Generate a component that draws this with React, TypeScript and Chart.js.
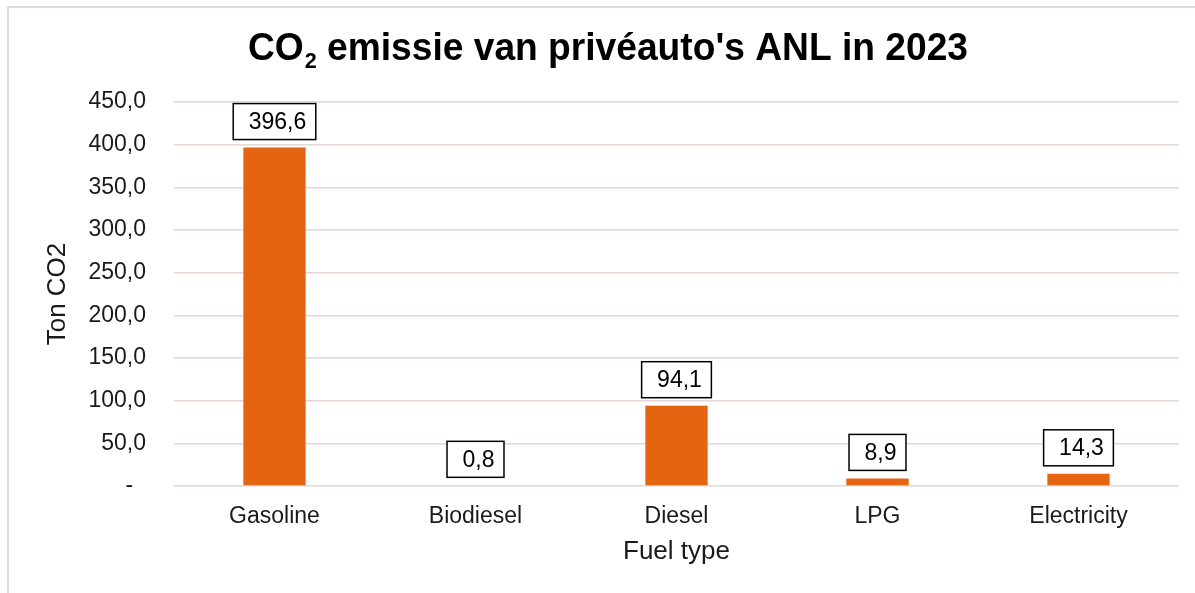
import React, { useEffect, useRef } from "react";
import { Chart, registerables } from "chart.js";

Chart.register(...registerables);

const categories = ["Gasoline", "Biodiesel", "Diesel", "LPG", "Electricity"];
const values = [396.6, 0.8, 94.1, 8.9, 14.3];
const yTicks = [0, 50, 100, 150, 200, 250, 300, 350, 400, 450];
const titleMain = "CO";
const titleSub = "2";
const titleRest = " emissie van privéauto's ANL in 2023";
const yTitle = "Ton CO2";
const xTitle = "Fuel type";

const FONT = "'Liberation Sans', Arial, sans-serif";
const fmt = (v: number) => v.toFixed(1).replace(".", ",");

const titlePlugin = {
  id: "customTitle",
  afterDraw(chart: any) {
    const ctx = chart.ctx;
    ctx.save();
    const big = `bold 38px ${FONT}`;
    const small = `bold 22px ${FONT}`;
    ctx.font = big;
    const w1 = ctx.measureText(titleMain).width;
    const w3 = ctx.measureText(titleRest).width;
    ctx.font = small;
    const w2 = ctx.measureText(titleSub).width + 1;
    const total = w1 + w2 + w3;
    const target = 720;
    const sx = target / total;
    const cx = 608;
    const baseY = 60;
    ctx.translate(cx - target / 2, 0);
    ctx.scale(sx, 1);
    ctx.fillStyle = "#000";
    ctx.textBaseline = "alphabetic";
    ctx.textAlign = "left";
    ctx.font = big;
    ctx.fillText(titleMain, 0, baseY);
    ctx.font = small;
    ctx.fillText(titleSub, w1 + 1, baseY + 8);
    ctx.font = big;
    ctx.fillText(titleRest, w1 + w2, baseY);
    ctx.restore();
  },
};

const labelPlugin = {
  id: "boxLabels",
  afterDatasetsDraw(chart: any) {
    const ctx = chart.ctx;
    const meta = chart.getDatasetMeta(0);
    ctx.save();
    ctx.font = `23px ${FONT}`;
    meta.data.forEach((bar: any, i: number) => {
      const txt = fmt(values[i]);
      const tw = ctx.measureText(txt).width;
      const bw = tw + 25;
      const bh = 36;
      const x = bar.x;
      const bottom = bar.y - 8;
      ctx.fillStyle = "#fff";
      ctx.fillRect(x - bw / 2, bottom - bh, bw, bh);
      ctx.strokeStyle = "#000";
      ctx.lineWidth = 1.5;
      ctx.strokeRect(x - bw / 2, bottom - bh, bw, bh);
      ctx.fillStyle = "#000";
      ctx.textAlign = "center";
      ctx.textBaseline = "middle";
      ctx.fillText(txt, x + 3, bottom - bh / 2 + 1);
    });
    ctx.restore();
  },
};

export default function App() {
  const ref = useRef<HTMLCanvasElement>(null);
  useEffect(() => {
    if (!ref.current) return;
    const chart = new Chart(ref.current, {
      type: "bar",
      data: {
        labels: categories,
        datasets: [
          {
            data: values,
            backgroundColor: "#E46411",
            barPercentage: 1,
            categoryPercentage: 0.31,
          },
        ],
      },
      options: {
        animation: false,
        responsive: false,
        layout: { padding: { top: 102, right: 16, left: 0, bottom: 0 } },
        plugins: {
          legend: { display: false },
          title: { display: false },
          tooltip: { enabled: false },
        },
        scales: {
          x: {
            grid: { display: false },
            border: { display: false },
            ticks: {
              color: "#1a1a1a",
              font: { family: FONT, size: 23 },
              padding: 9,
            },
            title: {
              display: true,
              text: xTitle,
              color: "#1a1a1a",
              font: { family: FONT, size: 26 },
              padding: { top: 0, bottom: 26 },
            },
            afterFit(scale: any) {
              scale.height = 107;
            },
          },
          y: {
            min: 0,
            max: 450,
            afterBuildTicks(scale: any) {
              scale.ticks = yTicks.map((v) => ({ value: v }));
            },
            grid: { color: "#E6D6D6", lineWidth: 1.5, drawTicks: false },
            border: { display: false },
            ticks: {
              color: "#1a1a1a",
              font: { family: FONT, size: 23 },
              padding: 28,
              callback: (v: any) => (Number(v) === 0 ? "-  " : fmt(Number(v))),
            },
            title: {
              display: true,
              text: yTitle,
              color: "#1a1a1a",
              font: { family: FONT, size: 26 },
              padding: { top: 42, bottom: 0 },
            },
            afterFit(scale: any) {
              scale.width = 174;
            },
          },
        },
      },
      plugins: [titlePlugin, labelPlugin],
    });
    return () => chart.destroy();
  }, []);
  return (
    <div style={{ position: "fixed", left: 0, top: 0, width: 1195, height: 593, background: "#fff" }}>
      <canvas ref={ref} width={1195} height={593} style={{ position: "absolute", left: 0, top: 0 }} />
      <div
        style={{
          position: "absolute",
          left: 7,
          top: 6,
          width: 1195,
          height: 593,
          borderLeft: "2px solid #E8D9D9",
          borderTop: "2px solid #E8D9D9",
          pointerEvents: "none",
        }}
      />
    </div>
  );
}
